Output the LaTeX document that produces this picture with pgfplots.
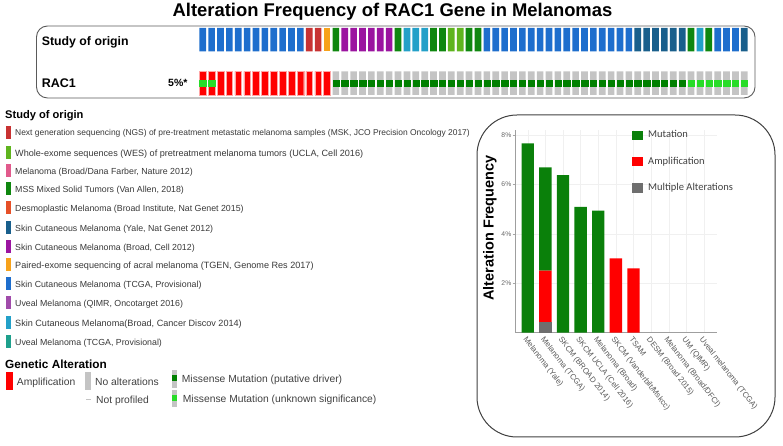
\documentclass[border=0pt]{standalone}
\usepackage{pgfplots}
\pgfplotsset{compat=1.18}
\usepackage{fontspec}
\setmainfont{Liberation Sans}
\newfontfamily\cali{Carlito}
\definecolor{cTCGA}{RGB}{30,110,205}
\definecolor{cYale}{RGB}{25,95,140}
\definecolor{cNGS}{RGB}{200,50,50}
\definecolor{cTGEN}{RGB}{247,162,27}
\definecolor{cMSS}{RGB}{15,135,15}
\definecolor{cCell}{RGB}{155,20,160}
\definecolor{cDisc}{RGB}{35,160,200}
\definecolor{cWES}{RGB}{95,180,30}
\definecolor{cDFCI}{RGB}{225,90,140}
\definecolor{cDESM}{RGB}{230,80,40}
\definecolor{cQIMR}{RGB}{160,75,170}
\definecolor{cUVM}{RGB}{30,160,140}
\definecolor{cAmp}{RGB}{255,0,0}
\definecolor{cNone}{RGB}{196,196,196}
\definecolor{cMutD}{RGB}{0,128,0}
\definecolor{cMutU}{RGB}{40,220,40}
\definecolor{cBarMut}{RGB}{10,128,10}
\definecolor{cBarMul}{RGB}{110,110,110}
\definecolor{frame}{RGB}{90,90,90}
\newcommand{\galfont}{\fontsize{10.3}{12}\selectfont}
\newcommand{\legitem}[4][8.8]{%
  \fill[#3] (6,{446-#2-6.5}) rectangle (10.5,{446-#2+6.5});
  \node[anchor=base west, inner sep=0pt, font=\fontsize{#1}{10}\selectfont, text=black!78] at (15,{446-#2-3.1}) {#4};}
\pgfplotsset{mysq/.style={legend image code/.code={\fill[##1] (0pt,-4.7pt) rectangle (11pt,4.7pt);}}}
\begin{document}
\begin{tikzpicture}[x=1pt,y=1pt]
\path[use as bounding box] (0,0) rectangle (783,446);
\node[anchor=base, inner sep=0pt, font=\bfseries\fontsize{18.4}{20}\selectfont] at (392.5,429) {Alteration Frequency of RAC1 Gene in Melanomas};
% ---------- oncoprint ----------
\draw[frame, line width=0.9pt, rounded corners=11pt] (36.5,348) rectangle (755,420);
\node[anchor=base west, inner sep=0pt, font=\bfseries\fontsize{12.3}{14}\selectfont] at (41.7,400.5) {Study of origin};
\node[anchor=base west, inner sep=0pt, font=\bfseries\fontsize{12.5}{14}\selectfont] at (41.7,358.5) {RAC1};
\node[anchor=base west, inner sep=0pt, font=\bfseries\fontsize{10.5}{12}\selectfont] at (168,359) {5\%*};
\begin{axis}[at={(198.26pt,394.5pt)}, anchor=south west, scale only axis, width=550.5pt, height=23.5pt,
  xmin=0.5, xmax=62.5, ymin=0, ymax=1, hide axis, clip=false,
  every axis plot/.append style={ybar, bar width=0.75, bar shift=0pt, draw=none}]
\addplot[fill=cTCGA] coordinates {(1,1)(2,1)(3,1)(4,1)(5,1)(6,1)(7,1)(8,1)(9,1)(10,1)(11,1)(12,1)
 (33,1)(34,1)(35,1)(36,1)(37,1)(38,1)(39,1)(40,1)(41,1)(42,1)(43,1)(44,1)(45,1)(46,1)(47,1)(48,1)(49,1)
 (59,1)(60,1)(61,1)};
\addplot[fill=cNGS] coordinates {(13,1)(14,1)};
\addplot[fill=cTGEN] coordinates {(15,1)};
\addplot[fill=cMSS] coordinates {(16,1)(23,1)(27,1)(28,1)(31,1)(32,1)(56,1)(58,1)};
\addplot[fill=cCell] coordinates {(17,1)(18,1)(19,1)(20,1)(21,1)(22,1)};
\addplot[fill=cDisc] coordinates {(24,1)(25,1)(26,1)(57,1)};
\addplot[fill=cWES] coordinates {(29,1)(30,1)};
\addplot[fill=cYale] coordinates {(50,1)(51,1)(52,1)(53,1)(54,1)(55,1)(62,1)};
\end{axis}
\begin{axis}[at={(198.26pt,351pt)}, anchor=south west, scale only axis, width=550.5pt, height=23.5pt,
  xmin=0.5, xmax=62.5, ymin=0, ymax=1, hide axis, clip=false]
\addplot[ybar, bar width=0.75, bar shift=0pt, draw=red!35, line width=0.4pt, fill=cAmp] coordinates {(1,1)(2,1)(3,1)(4,1)(5,1)(6,1)(7,1)(8,1)(9,1)(10,1)(11,1)(12,1)(13,1)(14,1)(15,1)};
\addplot[ybar, bar width=0.75, bar shift=0pt, draw=none, fill=cNone] coordinates {(16,1)(17,1)(18,1)(19,1)(20,1)(21,1)(22,1)(23,1)(24,1)(25,1)(26,1)(27,1)(28,1)(29,1)(30,1)
 (31,1)(32,1)(33,1)(34,1)(35,1)(36,1)(37,1)(38,1)(39,1)(40,1)(41,1)(42,1)(43,1)(44,1)(45,1)(46,1)(47,1)(48,1)(49,1)(50,1)
 (51,1)(52,1)(53,1)(54,1)(55,1)(56,1)(57,1)(58,1)(59,1)(60,1)(61,1)(62,1)};
\addplot[only marks, mark=square*, color=cMutD, mark size=3.15pt, line width=0.3pt] coordinates {(16,0.5)(17,0.5)(18,0.5)(19,0.5)(20,0.5)(21,0.5)(22,0.5)(23,0.5)(24,0.5)(25,0.5)(26,0.5)(27,0.5)(28,0.5)(29,0.5)(30,0.5)
 (31,0.5)(32,0.5)(33,0.5)(34,0.5)(35,0.5)(36,0.5)(37,0.5)(38,0.5)(39,0.5)(40,0.5)(41,0.5)(42,0.5)(43,0.5)(44,0.5)(45,0.5)(46,0.5)(47,0.5)(48,0.5)(49,0.5)(50,0.5)
 (51,0.5)(52,0.5)(53,0.5)(54,0.5)(55,0.5)};
\addplot[only marks, mark=square*, color=cMutU, mark size=3.15pt, line width=0.3pt] coordinates {(1,0.5)(2,0.5)(56,0.5)(57,0.5)(58,0.5)(59,0.5)(60,0.5)(61,0.5)(62,0.5)};
\end{axis}
% ---------- study legend ----------
\node[anchor=base west, inner sep=0pt, font=\bfseries\fontsize{11.1}{13}\selectfont] at (5,327) {Study of origin};
\legitem[8.45]{132.7}{cNGS}{Next generation sequencing (NGS) of pre-treatment metastatic melanoma samples (MSK, JCO Precision Oncology 2017)}
\legitem[9.1]{153}{cWES}{Whole-exome sequences (WES) of pretreatment melanoma tumors (UCLA, Cell 2016)}
\legitem{171}{cDFCI}{Melanoma (Broad/Dana Farber, Nature 2012)}
\legitem{189}{cMSS}{MSS Mixed Solid Tumors (Van Allen, 2018)}
\legitem{208}{cDESM}{Desmoplastic Melanoma (Broad Institute, Nat Genet 2015)}
\legitem{228}{cYale}{Skin Cutaneous Melanoma (Yale, Nat Genet 2012)}
\legitem{247}{cCell}{Skin Cutaneous Melanoma (Broad, Cell 2012)}
\legitem[9.1]{265}{cTGEN}{Paired-exome sequencing of acral melanoma (TGEN, Genome Res 2017)}
\legitem{284}{cTCGA}{Skin Cutaneous Melanoma (TCGA, Provisional)}
\legitem{303}{cQIMR}{Uveal Melanoma (QIMR, Oncotarget 2016)}
\legitem[9.1]{323}{cDisc}{Skin Cutaneous Melanoma(Broad, Cancer Discov 2014)}
\legitem{342}{cUVM}{Uveal Melanoma (TCGA, Provisional)}
% ---------- genetic alteration legend ----------
\node[anchor=base west, inner sep=0pt, font=\bfseries\fontsize{11.8}{13}\selectfont] at (5,77) {Genetic Alteration};
\fill[cAmp] (6,56) rectangle (12.7,74.3);
\node[anchor=base west, inner sep=0pt, font=\galfont, text=black!75] at (16.7,60.7) {Amplification};
\fill[cNone] (85,56) rectangle (90.7,74.3);
\node[anchor=base west, inner sep=0pt, font=\galfont, text=black!75] at (95,60.7) {No alterations};
\fill[cNone] (86,45.8) rectangle (90.7,47.2);
\node[anchor=base west, inner sep=0pt, font=\galfont, text=black!75] at (96,42.4) {Not profiled};
\fill[cNone] (172.3,58) rectangle (177.3,76);
\fill[cMutD] (172.3,64.5) rectangle (177.3,70.5);
\node[anchor=base west, inner sep=0pt, font=\galfont, text=black!75] at (181.7,63) {Missense Mutation (putative driver)};
\fill[cNone] (172.3,39.3) rectangle (177.3,56);
\fill[cMutU] (172.3,44.5) rectangle (177.3,50.5);
\node[anchor=base west, inner sep=0pt, font=\galfont, text=black!75] at (182.7,43) {Missense Mutation (unknown significance)};
% ---------- bar chart ----------
\draw[black!75, line width=1pt, rounded corners=40pt] (477,9) rectangle (775,331);
\begin{axis}[at={(515pt,113.3pt)}, anchor=south west, scale only axis, width=201.7pt, height=202.5pt,
  xmin=-0.72, xmax=10.72, ymin=0, ymax=8.2,
  ybar stacked, bar width=0.7,
  axis lines*=left, axis line style={draw=gray!75, -},
  xtick={0,...,10},
  xticklabels={Melanoma (Yale),Melanoma (TCGA),SKCM (BROAD 2014),SKCM UCLA (Cell 2016),Melanoma (Broad),SKCM (Vanderbilt/Mskcc),TSAM,DESM (Broad 2015),Melanoma (Broad/DFCI),UM (QIMR),Uveal melanoma (TCGA)},
  x tick label style={rotate=-52, anchor=north west, inner sep=0.5pt, font=\fontsize{7.9}{9}\selectfont, text=black!65},
  ytick={2,4,6,8}, yticklabels={2\%,4\%,6\%,8\%},
  y tick label style={font=\fontsize{6.8}{8}\selectfont, text=black!60, inner sep=1pt},
  tick align=outside, major tick length=2.5pt, tick style={gray!70},
  xtick style={draw=none},
  grid=major, major grid style={gray!12},
  ylabel={Alteration Frequency},
  ylabel style={at={(axis description cs:-0.124,0.517)}, anchor=center, font=\bfseries\fontsize{14.5}{16}\selectfont},
  legend style={at={(axis description cs:0.5786,1.0)}, anchor=north west, draw=none, fill=none,
    font=\cali\fontsize{10.5}{12}\selectfont, text=black!75, row sep=16.3pt, inner sep=0pt,
    nodes={inner sep=0pt, text height=7.5pt, text depth=2.5pt}, column sep=5.3pt},
  legend cell align=left, reverse legend]
\addplot[fill=cBarMul, draw=none, mysq] coordinates {(0,0)(1,0.42)(2,0)(3,0)(4,0)(5,0)(6,0)(7,0)(8,0)(9,0)(10,0)};
\addlegendentry{Multiple Alterations}
\addplot[fill=cAmp, draw=none, mysq] coordinates {(0,0)(1,2.09)(2,0)(3,0)(4,0)(5,3.01)(6,2.6)(7,0)(8,0)(9,0)(10,0)};
\addlegendentry{Amplification}
\addplot[fill=cBarMut, draw=none, mysq] coordinates {(0,7.67)(1,4.18)(2,6.38)(3,5.10)(4,4.94)(5,0)(6,0)(7,0)(8,0)(9,0)(10,0)};
\addlegendentry{Mutation}
\end{axis}
\end{tikzpicture}
\end{document}
